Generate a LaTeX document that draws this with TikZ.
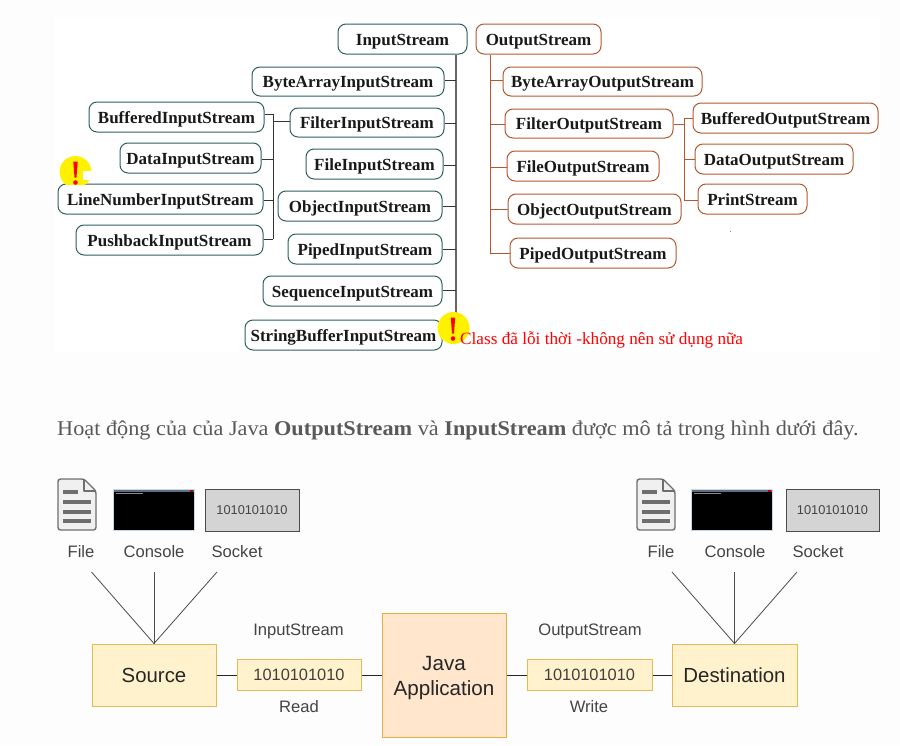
\documentclass[tikz,border=0pt]{standalone}
\usepackage{fontspec}
\setmainfont{Liberation Serif}
\setsansfont{Liberation Sans}
\definecolor{pagebg}{HTML}{FDFDFD}
\definecolor{tealline}{HTML}{2F6060}
\definecolor{brownline}{HTML}{B3582F}
\definecolor{treegray}{HTML}{666666}
\definecolor{boxyellow}{HTML}{FFF2CC}
\definecolor{boxorange}{HTML}{FFE6CC}
\definecolor{edgeyellow}{HTML}{E3BA55}
\definecolor{edgeorange}{HTML}{E5AE3F}
\definecolor{icongray}{HTML}{6E6E6E}
\definecolor{labelgray}{HTML}{444444}
\definecolor{consoleedge}{HTML}{C4D8E8}
\definecolor{consolebar}{HTML}{5E6E80}
\tikzset{
  classbox/.style={rounded corners=8pt,line width=1pt,fill=white,inner sep=0pt,
    font=\fontsize{17}{18}\selectfont\bfseries,text=black!90},
  inbox/.style={classbox,draw=tealline},
  outbox/.style={classbox,draw=brownline},
  intree/.style={line width=1pt,draw=black!80},
  intrunk/.style={line width=1.6pt,draw=treegray},
  outtree/.style={line width=1pt,draw=brownline},
  flowbox/.style={draw=edgeyellow,fill=boxyellow,line width=1pt,inner sep=0pt,text=black!85,font=\sffamily\fontsize{20.4}{24}\selectfont},
  bytebox/.style={flowbox,font=\sffamily\fontsize{16.4}{18}\selectfont,text=black!75},
  appbox/.style={draw=edgeorange,fill=boxorange,line width=1pt,inner sep=0pt,text=black!85,
    font=\sffamily\fontsize{20.6}{25}\selectfont,align=center},
  caption/.style={anchor=base,font=\sffamily\fontsize{16.6}{18}\selectfont,text=labelgray,inner sep=0pt},
  socketbox/.style={draw=black!70,fill=black!17,line width=1pt,inner sep=0pt,
    font=\sffamily\fontsize{12.8}{14}\selectfont,text=labelgray},
  consolebox/.style={draw=consoleedge,fill=black,line width=1pt,inner sep=0pt},
  link/.style={line width=.9pt,draw=black!85},
  fan/.style={line width=.8pt,draw=black!70},
  warndot/.style={circle,fill=yellow,minimum size=32pt,inner sep=0pt},
}
% \bx{style}{name}{x1}{y1}{x2}{y2}{text}
\newcommand{\bx}[7]{\node[#1,minimum width={(#5-#3)*1pt},minimum height={(#6-#4)*1pt}] (#2) at ({(#3+#5)/2},{(#4+#6)/2}) {#7};}
\newcommand{\cin}[6]{\bx{inbox}{#1}{#2}{#3}{#4}{#5}{\raisebox{-2.2pt}[12pt][4pt]{#6}}}
\newcommand{\cout}[6]{\bx{outbox}{#1}{#2}{#3}{#4}{#5}{\raisebox{-2.2pt}[12pt][4pt]{#6}}}
\newcommand{\warnmark}[2]{%
  \fill[red] (#1-2.2,#2-10.5) -- (#1+2.2,#2-10.5) -- (#1+1,#2+5.5) -- (#1-1,#2+5.5) -- cycle;
  \fill[red] (#1,#2+10.5) circle (2.3);}
\newcommand{\fileicon}[2]{%
  \begin{scope}[shift={(#1,#2)}]
    \draw[icongray,fill=black!6,line width=1.4pt,line join=round,rounded corners=2.5pt]
      (0,0) -- (26,0) -- (38,12) -- (38,51) -- (0,51) -- cycle;
    \draw[icongray,line width=1.2pt,line join=round] (26,0) -- (26,12) -- (38,12);
    \fill[icongray] (5,11) rectangle (20,15);
    \fill[icongray] (5,21) rectangle (33,25);
    \fill[icongray] (5,31) rectangle (33,35);
    \fill[icongray] (5,40) rectangle (33,44);
  \end{scope}}
\newcommand{\consolebar}[1]{%
  \fill[consolebar] (#1+1,490) rectangle (#1+81,492);
  \fill[black!45] (#1+3,492.5) rectangle (#1+30,493.2);
  \fill[red!70!black] (#1+77,490) rectangle (#1+80,492);}
\newcommand{\applabel}[1]{\raisebox{-3pt}[15pt][5pt]{#1}}
\begin{document}
\begin{tikzpicture}[x=1pt,y=-1pt]
\useasboundingbox (0,0) rectangle (900,745);
\fill[pagebg] (0,0) rectangle (900,745);
\fill[white] (55,17) rectangle (880,352);

% ---- input hierarchy
\cin{inS}{338}{24}{467}{54}{InputStream}
\cin{inBA}{252}{67}{444}{96}{ByteArrayInputStream}
\cin{inBuf}{89}{102}{264}{132}{BufferedInputStream}
\cin{inFilter}{290}{108}{444}{137}{FilterInputStream}
\cin{inData}{120}{143}{261}{173}{DataInputStream}
\cin{inFile}{306}{149}{443}{179}{FileInputStream}
\cin{inLine}{58}{184}{263}{214}{LineNumberInputStream}
\cin{inObj}{278}{191}{442}{221}{ObjectInputStream}
\cin{inPush}{76}{225}{263}{255}{PushbackInputStream}
\cin{inPiped}{288}{234}{442}{264}{PipedInputStream}
\cin{inSeq}{263}{276}{442}{306}{SequenceInputStream}
\cin{inStr}{245}{320}{442}{350}{StringBufferInputStream}

\coordinate (inEnd) at (456,316);
\coordinate (subInTop) at (273,114);
\coordinate (subInEnd) at (273,239);
\draw[intrunk] (inS.south -| inEnd) -- (inEnd);
\draw[intree] (subInTop) -- (subInEnd);
\draw[intree] (inBA.east |- 0,80) -- (inEnd |- 0,80);
\draw[intree] (inFilter.east |- 0,123) -- (inEnd |- 0,123);
\draw[intree] (inFile.east |- 0,165) -- (inEnd |- 0,165);
\draw[intree] (inObj.east |- 0,206) -- (inEnd |- 0,206);
\draw[intree] (inPiped.east |- 0,249) -- (inEnd |- 0,249);
\draw[intree] (inSeq.east |- 0,290) -- (inEnd |- 0,290);
\draw[intree] (inBuf.east |- subInTop) -- (subInTop);
\draw[intree] (inData.east |- 0,159) -- (subInTop |- 0,159);
\draw[intree] (inLine.east |- 0,200) -- (subInTop |- 0,200);
\draw[intree] (inPush.east |- subInEnd) -- (subInEnd);
\draw[intree] (subInTop |- 0,121) -- (inFilter.west |- 0,121);

% ---- output hierarchy
\cout{outS}{476}{24}{601}{54}{OutputStream}
\cout{outBA}{503}{67}{702}{96}{ByteArrayOutputStream}
\cout{outFilter}{505}{109}{673}{138}{FilterOutputStream}
\cout{outFile}{507}{151}{659}{181}{FileOutputStream}
\cout{outObj}{508}{194}{681}{224}{ObjectOutputStream}
\cout{outPiped}{510}{238}{676}{268}{PipedOutputStream}
\cout{outBuf}{693}{103}{878}{133}{BufferedOutputStream}
\cout{outData}{695}{144}{853}{174}{DataOutputStream}
\cout{outPrint}{698}{184}{807}{214}{PrintStream}

\coordinate (outEnd) at (490,253);
\coordinate (subOutTop) at (684,118);
\coordinate (subOutEnd) at (684,200);
\draw[outtree] (outEnd |- outS.south) -- (outEnd) -- (outPiped.west |- outEnd);
\draw[outtree] (outEnd |- 0,80) -- (outBA.west |- 0,80);
\draw[outtree] (outEnd |- 0,124) -- (outFilter.west |- 0,124);
\draw[outtree] (outEnd |- 0,167) -- (outFile.west |- 0,167);
\draw[outtree] (outEnd |- 0,209) -- (outObj.west |- 0,209);
\draw[outtree] (outFilter.east |- 0,124) -- (subOutTop |- 0,124);
\draw[outtree] (outBuf.west |- subOutTop) -- (subOutTop) -- (subOutEnd) -- (outPrint.west |- subOutEnd);
\draw[outtree] (subOutTop |- 0,159) -- (outData.west |- 0,159);
\fill[black!50] (729.5,230.5) rectangle (730.5,231.5);

% ---- warnings
\begin{scope}
\clip (40,150) rectangle (110,184.5);
\node[warndot] (warnA) at (75.5,172) {};
\end{scope}
\fill[white] (83,171) rectangle (92,180);
\warnmark{75.5}{172}
\node[warndot] (warnB) at (453.5,328) {};
\warnmark{453}{328}
\node[anchor=base west,inner sep=0pt,text=red,font=\fontsize{17.2}{18}\selectfont] (warnText) at (460,344)
  {Class đã lỗi thời -không nên sử dụng nữa};

% ---- sentence
\node[anchor=base west,inner sep=0pt,text=black!65,font=\fontsize{21}{24}\selectfont] (sentence) at (57,435)
  {\scalebox{1.06}[1]{Hoạt động của của Java \textbf{OutputStream} và \textbf{InputStream} được mô tả trong hình dưới đây.}};

% ---- flow left
\fileicon{58}{479}
\node[consolebox,minimum width=81pt,minimum height=41pt] (conA) at (154,510) {};
\consolebar{113}
\node[socketbox,minimum width=94pt,minimum height=42pt] (sockA) at (252,510) {1010101010};
\node[caption] (fileA) at (81,557) {File};
\node[caption] (consoleA) at (154,557) {Console};
\node[caption] (socketA) at (237,557) {Socket};
\coordinate (fanA1) at (91.5,572);
\coordinate (fanA2) at (154,572);
\coordinate (fanA3) at (217,572);

\bx{flowbox}{source}{92}{644}{216}{706}{Source}
\bx{bytebox}{bytesA}{237}{659.5}{361}{690.5}{1010101010}
\bx{appbox}{java}{382}{613}{506}{737}{\applabel{Java}\\\applabel{Application}}
\bx{bytebox}{bytesB}{527}{659.5}{652}{690.5}{1010101010}
\bx{flowbox}{dest}{672}{644}{797}{706}{Destination}
\node[caption] (isLabel) at (298.5,635) {InputStream};
\node[caption] (readLabel) at (299,712) {Read};
\node[caption] (osLabel) at (590,635) {OutputStream};
\node[caption] (writeLabel) at (589,712) {Write};

\draw[fan] (fanA1) -- (source.north);
\draw[fan] (fanA2) -- (source.north);
\draw[fan] (fanA3) -- (source.north);
\draw[link] (source.east) -- (bytesA.west);
\draw[link] (bytesA.east) -- (java.west);
\draw[link] (java.east) -- (bytesB.west);
\draw[link] (bytesB.east) -- (dest.west);

% ---- flow right
\fileicon{637}{479}
\node[consolebox,minimum width=81pt,minimum height=41pt] (conB) at (732,510) {};
\consolebar{691}
\node[socketbox,minimum width=93pt,minimum height=42pt] (sockB) at (832.5,510) {1010101010};
\node[caption] (fileB) at (661,557) {File};
\node[caption] (consoleB) at (735,557) {Console};
\node[caption] (socketB) at (818,557) {Socket};
\coordinate (fanB1) at (672,572);
\coordinate (fanB2) at (734.5,572);
\coordinate (fanB3) at (797,572);
\draw[fan] (fanB1) -- (dest.north);
\draw[fan] (fanB2) -- (dest.north);
\draw[fan] (fanB3) -- (dest.north);
\end{tikzpicture}
\end{document}
